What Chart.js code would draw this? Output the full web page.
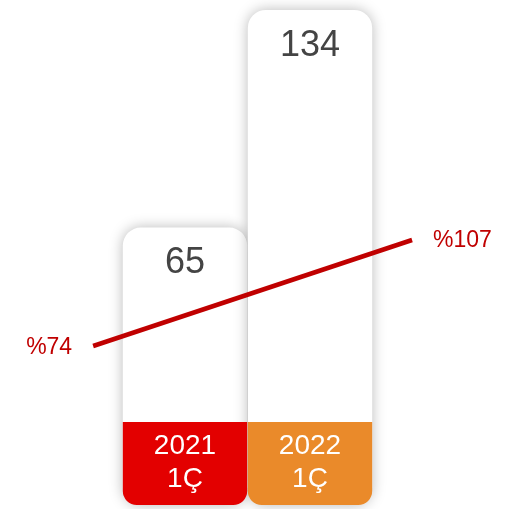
<!DOCTYPE html>
<html lang="tr">
  <head>
    <meta charset="UTF-8">
    <title>1Ç karşılaştırma</title>
    <script src="https://cdn.jsdelivr.net/npm/chart.js"></script>
    <style>
      html, body { margin: 0; padding: 0; background: #fff; }
      #wrap { width: 510px; height: 509px; }
    </style>
  </head>
  <body>
    <div id="wrap"><canvas id="barChart"></canvas></div>
    <script>
      const periods = [['2021', '1Ç'], ['2022', '1Ç']];
      const barValues = [65, 134];
      const baseColors = ['#e30000', '#ea8a2a'];
      const ratioValues = [74, 107];
      const ratioLabels = ['%74', '%107'];

      const fontFamily = 'Arial, "Liberation Sans", sans-serif';
      const baseHeight = 83; // colored strip at the foot of each bar

      const barDecor = {
        id: 'barDecor',
        beforeDatasetDraw(chart, args) {
          if (args.index !== 0) return;
          const ctx = chart.ctx;
          ctx.save();
          ctx.shadowColor = 'rgba(0,0,0,0.28)';
          ctx.shadowBlur = 14;
        },
        afterDatasetDraw(chart, args) {
          const ctx = chart.ctx;
          if (args.index === 0) {
            ctx.restore();
            const bars = chart.getDatasetMeta(0).data;
            bars.forEach((bar, i) => {
              const w = bar.width;
              const x = bar.x - w / 2;
              const bottom = chart.chartArea.bottom;
              ctx.save();
              ctx.fillStyle = baseColors[i];
              ctx.beginPath();
              ctx.roundRect(x, bottom - baseHeight, w, baseHeight, [0, 0, 14, 14]);
              ctx.fill();
              ctx.fillStyle = '#ffffff';
              ctx.font = '28px ' + fontFamily;
              ctx.textAlign = 'center';
              ctx.textBaseline = 'middle';
              ctx.fillText(periods[i][0], bar.x, bottom - baseHeight + 24);
              ctx.fillText(periods[i][1], bar.x, bottom - baseHeight + 57);
              ctx.fillStyle = '#444444';
              ctx.font = '36px ' + fontFamily;
              ctx.fillText(String(barValues[i]), bar.x, bar.y + 36);
              ctx.restore();
            });
          }
          if (args.index === 1) {
            const pts = chart.getDatasetMeta(1).data;
            ctx.save();
            ctx.fillStyle = '#c00000';
            ctx.font = '23px ' + fontFamily;
            ctx.textBaseline = 'middle';
            ctx.textAlign = 'right';
            ctx.fillText(ratioLabels[0], pts[0].x - 21, pts[0].y + 2);
            ctx.textAlign = 'left';
            ctx.fillText(ratioLabels[1], pts[1].x + 21, pts[1].y + 1);
            ctx.restore();
          }
        }
      };

      new Chart(document.getElementById('barChart'), {
        data: {
          labels: periods.map(p => p.join(' ')),
          datasets: [{
            type: 'bar',
            data: barValues,
            backgroundColor: '#ffffff',
            borderRadius: 18,
            borderSkipped: false,
            base: -23,
            grouped: false,
            categoryPercentage: 1,
            barPercentage: 0.995,
            clip: false,
            xAxisID: 'x',
            yAxisID: 'y',
            order: 2
          }, {
            type: 'line',
            data: ratioValues.map((v, i) => ({ x: i, y: v })),
            borderColor: '#c00000',
            borderWidth: 4.5,
            pointRadius: 0,
            clip: false,
            xAxisID: 'x2',
            yAxisID: 'y2',
            order: 1
          }]
        },
        options: {
          responsive: true,
          maintainAspectRatio: false,
          animation: false,
          layout: { padding: { left: 122.5, right: 137.5, top: 10, bottom: 4 } },
          plugins: { legend: { display: false }, tooltip: { enabled: false } },
          scales: {
            x: { type: 'category', display: false },
            y: { display: false, min: -23, max: 134 },
            x2: { type: 'linear', display: false, min: 0.092, max: 0.876 },
            y2: { display: false, min: 24.5, max: 178.6 }
          }
        },
        plugins: [barDecor]
      });
    </script>
  </body>
</html>
